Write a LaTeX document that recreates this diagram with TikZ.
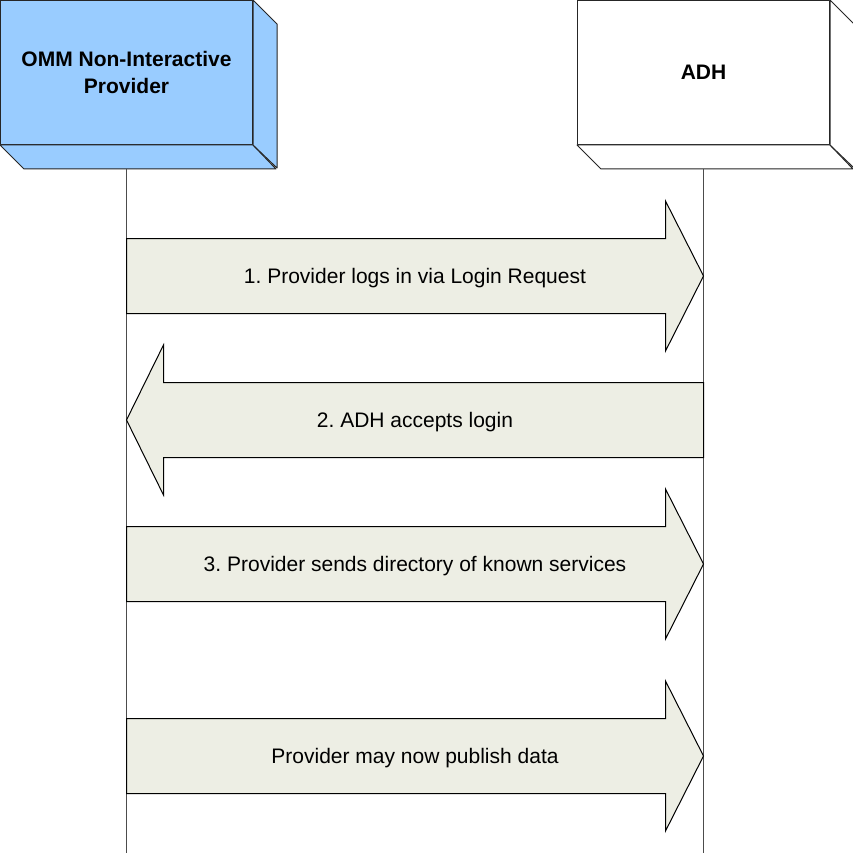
\documentclass[tikz,border=0pt]{standalone}
\usepackage{fontspec}
\setmainfont{Liberation Sans}
\usetikzlibrary{calc}
\frenchspacing

\definecolor{provblue}{RGB}{153,204,255}
\definecolor{msgfill}{RGB}{237,238,228}

\tikzset{
  face/.style={draw=black!85, line width=1pt, line join=round},
  headbox/.style={face, minimum width=252pt, minimum height=144pt, inner sep=0pt,
    align=center, font=\bfseries\fontsize{21}{27}\selectfont},
  life/.style={draw=black!70, line width=1.2pt},
  msg/.style={draw=black, line width=1pt, fill=msgfill, line join=miter},
  msgtext/.style={font=\fontsize{21}{25}\selectfont, yshift=-2pt},
}

\begin{document}
\begin{tikzpicture}[x=1pt, y=-1pt]
    \useasboundingbox (0,0) rectangle (853,853);

    % Lifeline heads
    \node[headbox, fill=provblue, anchor=north west] (prov) at (0,0) {OMM Non-Interactive\\Provider};
    \node[headbox, fill=white, anchor=north west] (adh) at (577,0) {ADH};

    % 3D sides of the heads
    \draw[face, fill=provblue] (prov.south west) -- ++(24,24) -- ++(252,0) -- (prov.south east) -- cycle;
    \draw[face, fill=provblue] (prov.north east) -- ++(24,24) -- ++(0,144) -- (prov.south east) -- cycle;
    \draw[face, fill=white] (adh.south west) -- ++(24,24) -- ++(252,0) -- (adh.south east) -- cycle;
    \draw[face, fill=white] (adh.north east) -- ++(24,24) -- ++(0,144) -- (adh.south east) -- cycle;

    % Lifelines
    \draw[life] ($(prov.south)+(0,24)$) -- (prov.south |- 0,853);
    \draw[life] ($(adh.south)+(0,24)$) -- (adh.south |- 0,853);

    % Messages to the ADH
    \foreach \y/\txt in {276/{1. Provider logs in via Login Request},
                         564/{3. Provider sends directory of known services},
                         756/{Provider may now publish data}} {
        \draw[msg] ($(prov.south |- 0,\y)+(0,-37.5)$)
            -- ($(adh.south |- 0,\y)+(-38,-37.5)$) -- ++(0,-37.5)
            -- (adh.south |- 0,\y) -- ++(-38,75) -- ++(0,-37.5)
            -- ($(prov.south |- 0,\y)+(0,37.5)$) -- cycle;
        \node[msgtext] (msg\y) at ($(prov.south |- 0,\y)!0.5!(adh.south |- 0,\y)$) {\txt};
    }

    % Reply from the ADH
    \draw[msg] ($(adh.south |- 0,420)+(0,-37.5)$)
        -- ($(prov.south |- 0,420)+(37,-37.5)$) -- ++(0,-37.5)
        -- (prov.south |- 0,420) -- ++(37,75) -- ++(0,-37.5)
        -- ($(adh.south |- 0,420)+(0,37.5)$) -- cycle;
    \node[msgtext] (msg420) at ($(prov.south |- 0,420)!0.5!(adh.south |- 0,420)$) {2. ADH accepts login};

\end{tikzpicture}
\end{document}
